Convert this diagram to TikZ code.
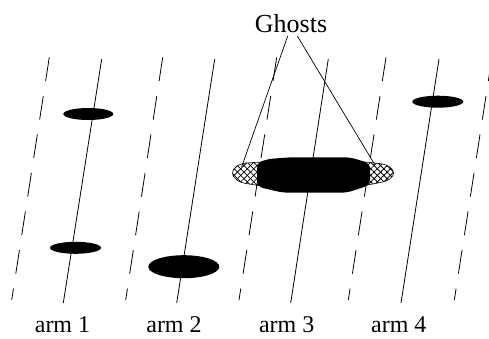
\documentclass[tikz,border=0pt]{standalone}
\usepackage{fontspec}
\setmainfont{Liberation Serif}
\usetikzlibrary{shapes.geometric,patterns.meta}
\begin{document}
\begin{tikzpicture}[x=1pt,y=-1pt,
  armline/.style={line width=0.8pt},
  armdash/.style={line width=0.8pt, dash pattern=on 24pt off 15pt},
  blob/.style={ellipse, fill=black, inner sep=0pt},
  lbl/.style={font=\fontsize{24}{26}\selectfont, anchor=base, inner sep=0pt},
  ghostlbl/.style={font=\fontsize{26}{28}\selectfont, anchor=base, inner sep=0pt},
  ghostfill/.style={draw, line width=0.6pt,
    pattern={Lines[angle=45,distance=4.6pt,line width=0.8pt]},
    postaction={pattern={Lines[angle=-45,distance=4.6pt,line width=0.8pt]}}},
  pointer/.style={line width=0.7pt}]
\useasboundingbox (0,0) rectangle (489,338);
% arm coordinates
\coordinate (s1t) at (101.7,59);  \coordinate (s1b) at (63.3,303);
\coordinate (s2t) at (214.7,59);  \coordinate (s2b) at (176.7,303);
\coordinate (s3t) at (328.3,59);  \coordinate (s3b) at (290.7,303);
\coordinate (s4t) at (439,59);    \coordinate (s4b) at (401,303);
\coordinate (d0t) at (49.3,57.3); \coordinate (d0b) at (11.7,300);
\coordinate (d1t) at (162.7,57.3);\coordinate (d1b) at (125.7,300);
\coordinate (d2t) at (276.7,57.3);\coordinate (d2b) at (239,300);
\coordinate (d3t) at (386,57.3);  \coordinate (d3b) at (348.3,300);
\coordinate (d4t) at (492,57.3);  \coordinate (d4b) at (454.3,300);
\begin{scope}
\clip (0,0) rectangle (489,338);
\foreach \i in {1,2,3,4} \draw[armline] (s\i t) -- (s\i b);
\foreach \i in {0,1,2,3,4} \draw[armdash] (d\i t) -- (d\i b);
\end{scope}
% blobs
\node[blob, minimum width=50pt, minimum height=12pt] (b1) at (88.3,114) {};
\node[blob, minimum width=51pt, minimum height=12pt] (b2) at (75.5,247.8) {};
\node[blob, minimum width=71pt, minimum height=23pt] (b3) at (183.8,266.7) {};
\node[blob, minimum width=51pt, minimum height=12pt] (b4) at (437.8,101.7) {};
% ghosts
\path[ghostfill] (262,162) -- (246,163) .. controls (237,164) and (232.5,169) .. (232.5,173)
  .. controls (232.5,177) and (237,182) .. (246,183.5) -- (262,186) -- cycle;
\path[ghostfill] (365,162) -- (380,163.5) .. controls (389,165) and (393.5,169) .. (393.5,173)
  .. controls (393.5,177) and (389,181) .. (380,182.5) -- (365,185.5) -- cycle;
% main blob
\fill[rounded corners=6pt] (257,162.7) .. controls (268,159) .. (290,157.3) -- (350,157.3) -- (370,163.3)
  -- (370,185) -- (347,192.7) -- (283,192.7) -- (257,186.7) -- cycle;
% label
\node[ghostlbl] (ghosts) at (291,32) {Ghosts};
\coordinate (gl) at (287.7,36);
\coordinate (gr) at (297.3,36);
\coordinate (g1) at (241.7,166.7);
\coordinate (g2) at (375,165);
\draw[pointer] (gl) -- (g1);
\draw[pointer] (gr) -- (g2);
% arm labels
\node[lbl] (a1) at (62.5,332.5) {arm 1};
\node[lbl] (a2) at (174,332.5) {arm 2};
\node[lbl] (a3) at (286.7,332.5) {arm 3};
\node[lbl] (a4) at (398.8,332.5) {arm 4};
\end{tikzpicture}
\end{document}
